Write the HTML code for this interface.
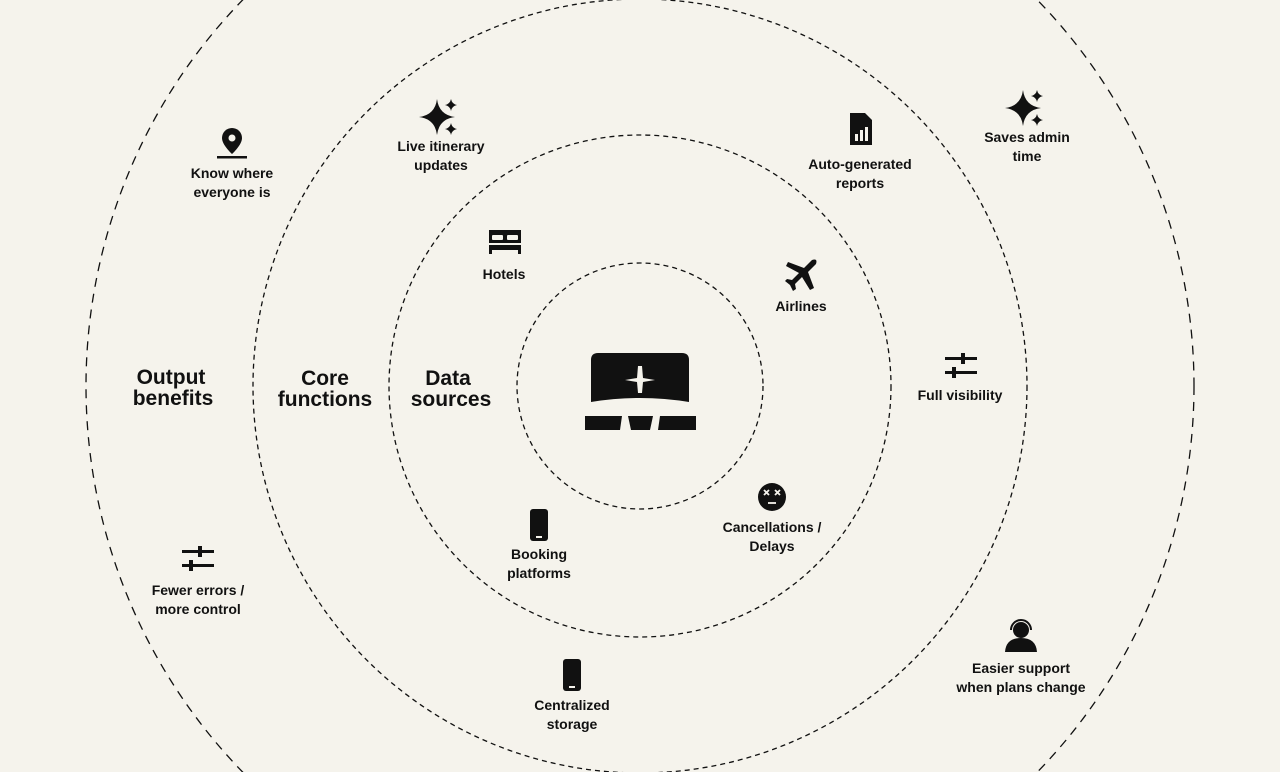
<!DOCTYPE html>
<html><head><meta charset="utf-8"><style>
html,body{margin:0;padding:0;background:#f5f3ec;width:1280px;height:772px;overflow:hidden;}
svg{display:block}
text{font-family:"Liberation Sans",sans-serif;fill:#111;}
.l{font-size:14px;font-weight:600;text-anchor:middle}
.h{font-size:21px;font-weight:600;text-anchor:middle}
</style></head><body>
<svg width="1280" height="772" viewBox="0 0 1280 772">
<rect width="1280" height="772" fill="#f5f3ec"/>
<g fill="none" stroke="#111" stroke-width="1.3" stroke-dasharray="5 4">
<circle cx="640" cy="386" r="123"/>
<circle cx="640" cy="386" r="251"/>
<circle cx="640" cy="386" r="387"/>
<circle cx="640" cy="386" r="554" stroke-dasharray="9 7"/>
</g>
<path d="M598 353 H682 Q689 353 689 360 V402 Q640 394 591 402 V360 Q591 353 598 353Z" fill="#111"/>
<path d="M638 366 H642 L643 378 L655 380 L643 382 L642 393 H638 L637 382 L625 380 L637 378Z" fill="#f5f3ec"/>
<path d="M585 416 H622 L620 430 H585Z" fill="#111"/>
<path d="M628 416 H653 L650 430 H631Z" fill="#111"/>
<path d="M660 416 H696 V430 H658Z" fill="#111"/>
<text class="h" x="171" y="384">Output</text><text class="h" x="173" y="405">benefits</text>
<text class="h" x="325" y="385">Core</text><text class="h" x="325" y="406">functions</text>
<text class="h" x="448" y="385">Data</text><text class="h" x="451" y="406">sources</text>
<g fill="#111">
<path d="M232 128 a10 10 0 0 1 10 10 c0 7-10 16-10 16 s-10-9-10-16 a10 10 0 0 1 10-10z"/><circle cx="232" cy="138" r="3.5" fill="#f5f3ec"/><rect x="217" y="156" width="30" height="2.5"/>
<path d="M437 99 Q439 115 455 117 Q439 119 437 135 Q435 119 419 117 Q435 115 437 99Z"/>
<path d="M451 99 Q452 104 457 105 Q452 106 451 111 Q450 106 445 105 Q450 104 451 99Z"/>
<path d="M451 123 Q452 128 457 129 Q452 130 451 135 Q450 130 445 129 Q450 128 451 123Z"/>
<path d="M1023 90 Q1025 106 1041 108 Q1025 110 1023 126 Q1021 110 1005 108 Q1021 106 1023 90Z"/>
<path d="M1037 90 Q1038 95 1043 96 Q1038 97 1037 102 Q1036 97 1031 96 Q1036 95 1037 90Z"/>
<path d="M1037 114 Q1038 119 1043 120 Q1038 121 1037 126 Q1036 121 1031 120 Q1036 119 1037 114Z"/>
<path d="M850 113 H865 L872 120 V145 H850Z"/><g fill="#f5f3ec"><rect x="855" y="134" width="3" height="7"/><rect x="860" y="130" width="3" height="11"/><rect x="865" y="127" width="3" height="14"/></g>
<path d="M489 230 H521 V254 H518 V250 H492 V254 H489Z"/><g fill="#f5f3ec"><rect x="492" y="235" width="11" height="5" rx="1"/><rect x="507" y="235" width="11" height="5" rx="1"/><rect x="489" y="243" width="32" height="2"/></g>
<path d="M812 260 Q818 258 816 264 L808 272 L814 288 L810 290 L802 277 L795 284 L796 289 L793 291 L790 285 L785 281 L787 279 L792 280 L799 273 L786 266 L788 262 L804 268Z"/>
<rect x="945" y="357" width="32" height="3"/><rect x="945" y="371" width="32" height="3"/><rect x="961" y="353" width="4" height="11"/><rect x="952" y="367" width="4" height="11"/>
<rect x="182" y="550" width="32" height="3"/><rect x="182" y="564" width="32" height="3"/><rect x="198" y="546" width="4" height="11"/><rect x="189" y="560" width="4" height="11"/>
<rect x="530" y="509" width="18" height="32" rx="3"/><rect x="536" y="536" width="6" height="2" fill="#f5f3ec"/>
<rect x="563" y="659" width="18" height="32" rx="3"/><rect x="569" y="686" width="6" height="2" fill="#f5f3ec"/>
<circle cx="772" cy="497" r="14"/>
<g stroke="#f5f3ec" stroke-width="1.8"><path d="M764 490 l5 5 M769 490 l-5 5 M775 490 l5 5 M780 490 l-5 5"/><path d="M768 503 h8"/></g>
<circle cx="1021" cy="630" r="8"/><path d="M1005 652 Q1006 638 1021 638 Q1036 638 1037 652Z"/>
<path d="M1011 630 a10 10 0 0 1 20 0" fill="none" stroke="#111" stroke-width="2"/>
</g>
<text class="l" x="232" y="178">Know where</text><text class="l" x="232" y="197">everyone is</text>
<text class="l" x="441" y="151">Live itinerary</text><text class="l" x="441" y="170">updates</text>
<text class="l" x="860" y="169">Auto-generated</text><text class="l" x="860" y="188">reports</text>
<text class="l" x="1027" y="142">Saves admin</text><text class="l" x="1027" y="161">time</text>
<text class="l" x="504" y="279">Hotels</text>
<text class="l" x="801" y="311">Airlines</text>
<text class="l" x="960" y="400">Full visibility</text>
<text class="l" x="772" y="532">Cancellations /</text><text class="l" x="772" y="551">Delays</text>
<text class="l" x="539" y="559">Booking</text><text class="l" x="539" y="578">platforms</text>
<text class="l" x="198" y="595">Fewer errors /</text><text class="l" x="198" y="614">more control</text>
<text class="l" x="572" y="710">Centralized</text><text class="l" x="572" y="729">storage</text>
<text class="l" x="1021" y="673">Easier support</text><text class="l" x="1021" y="692">when plans change</text>
</svg>
</body></html>
